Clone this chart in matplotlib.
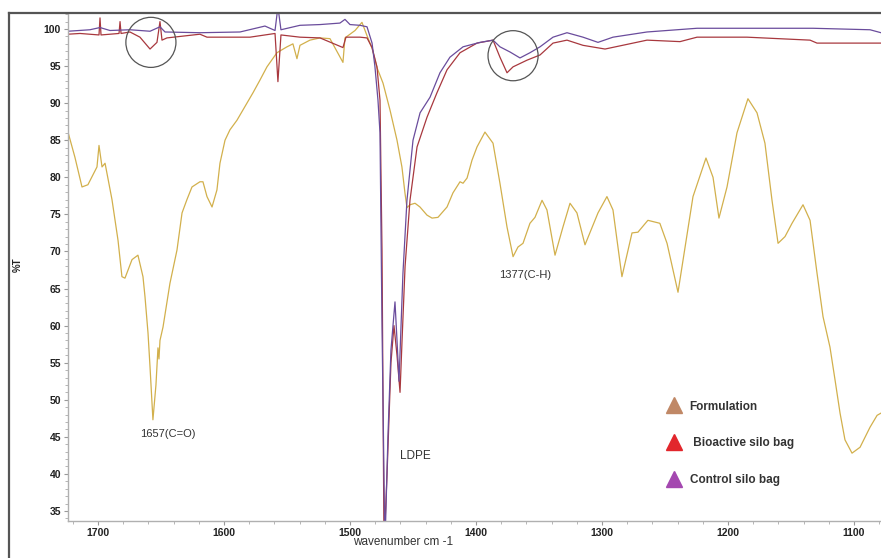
import matplotlib
matplotlib.use("Agg")
import matplotlib.pyplot as plt
from matplotlib.lines import Line2D
from matplotlib.ticker import MultipleLocator

plt.rcParams['font.family'] = ['Liberation Sans', 'DejaVu Sans']

# Formulation (gold curve)
form_wn = [1723.8, 1718.3, 1712.7, 1708.0, 1700.8, 1699.2, 1696.8, 1694.4, 1688.9, 1684.1,
           1681.0, 1678.6, 1673.0, 1668.3, 1664.3, 1662.7, 1660.3, 1658.7, 1656.4, 1654.0,
           1652.4, 1651.6, 1650.8, 1648.4, 1642.9, 1637.3, 1633.3, 1629.4, 1625.4, 1619.1,
           1616.7, 1613.5, 1609.5, 1605.6, 1603.2, 1599.2, 1595.3, 1589.7, 1581.8, 1577.0,
           1571.5, 1565.9, 1558.0, 1550.0, 1545.3, 1542.1, 1539.7, 1531.8, 1523.8, 1515.9,
           1505.6, 1504.0, 1496.0, 1490.5, 1486.5, 1482.5, 1478.6, 1473.8, 1468.3, 1462.7,
           1458.8, 1456.4, 1454.8, 1452.4, 1448.4, 1444.5, 1438.9, 1434.9, 1430.2, 1423.0,
           1418.3, 1412.7, 1410.3, 1407.1, 1403.2, 1399.2, 1392.9, 1386.5, 1381.0, 1375.4,
           1370.6, 1366.7, 1362.7, 1357.2, 1353.2, 1347.6, 1343.7, 1337.3, 1331.0, 1325.4,
           1319.9, 1313.5, 1303.2, 1296.1, 1291.3, 1284.2, 1276.2, 1271.5, 1263.6, 1254.1,
           1248.4, 1239.7, 1227.8, 1217.5, 1211.9, 1207.2, 1200.8, 1192.9, 1184.2, 1177.0,
           1170.7, 1165.1, 1160.3, 1154.8, 1149.2, 1140.5, 1134.9, 1129.4, 1124.6, 1119.1,
           1115.1, 1111.1, 1107.2, 1101.6, 1095.2, 1087.3, 1081.7, 1078.6]
form_t = [86.1, 82.7, 78.7, 79.0, 81.4, 84.3, 81.4, 81.9, 77.0, 71.5,
          66.6, 66.4, 68.9, 69.5, 66.6, 63.9, 59.0, 54.4, 47.3, 52.0,
          57.0, 55.5, 58.0, 59.8, 65.7, 70.2, 75.2, 77.0, 78.7, 79.4,
          79.4, 77.4, 76.0, 78.3, 81.9, 85.0, 86.4, 87.7, 90.0, 91.4,
          93.1, 94.9, 96.8, 97.6, 98.0, 96.0, 97.8, 98.5, 98.8, 98.7,
          95.5, 98.8, 99.8, 100.9, 99.1, 97.4, 94.8, 92.7, 89.1, 85.0,
          81.4, 77.9, 75.9, 76.3, 76.5, 76.0, 74.9, 74.5, 74.6, 76.0,
          77.9, 79.4, 79.2, 79.9, 82.3, 84.1, 86.1, 84.6, 79.2, 73.3,
          69.3, 70.6, 71.1, 73.8, 74.6, 76.9, 75.6, 69.5, 73.3, 76.5,
          75.2, 70.9, 75.2, 77.4, 75.6, 66.6, 72.5, 72.6, 74.2, 73.8,
          71.1, 64.5, 77.4, 82.6, 80.0, 74.5, 78.7, 86.0, 90.6, 88.7,
          84.6, 76.9, 71.1, 72.0, 73.8, 76.3, 74.2, 67.1, 61.2, 57.1,
          52.7, 48.2, 44.6, 42.8, 43.6, 46.3, 47.9, 48.2]

# Bioactive silo bag (red curve)
bio_wn = [1723.8, 1714.3, 1699.2, 1698.4, 1697.6, 1683.3, 1682.5, 1681.7, 1674.6, 1666.7,
          1658.7, 1653.2, 1650.8, 1649.2, 1645.3, 1619.1, 1613.5, 1579.4, 1559.5, 1557.2,
          1554.8, 1539.7, 1523.8, 1505.6, 1503.2, 1492.1, 1486.5, 1482.5, 1478.6, 1476.2,
          1474.6, 1473.0, 1470.6, 1467.5, 1465.1, 1462.7, 1460.3, 1458.7, 1456.3, 1452.4,
          1446.8, 1438.9, 1431.0, 1423.0, 1412.7, 1399.2, 1386.5, 1381.0, 1375.4, 1370.6,
          1359.5, 1349.2, 1338.9, 1327.8, 1315.1, 1297.6, 1264.3, 1238.1, 1224.6, 1184.9,
          1134.9, 1129.4, 1078.6]
bio_t = [99.3, 99.4, 99.2, 101.5, 99.2, 99.4, 101.0, 99.4, 99.6, 98.9,
         97.3, 98.2, 101.0, 98.5, 98.8, 99.3, 98.9, 98.9, 99.4, 92.9,
         99.2, 98.9, 98.8, 97.5, 98.9, 98.9, 98.8, 97.5, 94.9, 90.4,
         70.0, 30.0, 40.0, 55.0, 60.0, 56.0, 51.0, 58.0, 68.0, 76.9,
         84.1, 88.1, 91.4, 94.5, 96.8, 98.1, 98.5, 96.2, 94.1, 94.9,
         95.8, 96.5, 98.1, 98.5, 97.8, 97.3, 98.5, 98.3, 98.9, 98.9,
         98.5, 98.1, 98.1]

# Control silo bag (purple curve)
ctrl_wn = [1723.8, 1706.4, 1698.4, 1690.5, 1674.6, 1658.7, 1650.8, 1646.8, 1619.1, 1587.3,
           1567.5, 1559.5, 1557.2, 1554.8, 1539.7, 1523.8, 1508.0, 1504.0, 1500.0, 1492.1,
           1486.5, 1482.5, 1480.2, 1477.8, 1476.2, 1474.6, 1472.3, 1469.9, 1467.5, 1464.3,
           1462.7, 1461.1, 1459.5, 1458.0, 1454.8, 1450.0, 1444.4, 1436.5, 1428.6, 1420.7,
           1410.3, 1396.8, 1386.5, 1381.0, 1373.0, 1365.1, 1357.2, 1349.2, 1338.9, 1327.8,
           1315.1, 1303.2, 1291.3, 1264.3, 1224.6, 1184.9, 1132.5, 1087.3, 1078.6]
ctrl_t = [99.7, 99.9, 100.2, 99.8, 99.9, 99.7, 100.3, 99.6, 99.5, 99.6,
          100.4, 99.8, 103.0, 99.9, 100.5, 100.6, 100.8, 101.3, 100.6, 100.5,
          100.3, 98.1, 94.9, 90.4, 86.0, 60.0, 30.0, 45.0, 56.7, 63.2,
          58.0, 52.5, 60.0, 67.0, 76.9, 85.0, 88.7, 90.8, 94.1, 96.2,
          97.6, 98.2, 98.5, 97.6, 96.9, 96.1, 96.8, 97.6, 98.9, 99.5,
          98.9, 98.2, 98.9, 99.6, 100.1, 100.1, 100.1, 99.9, 99.5]

fig = plt.figure(figsize=(8.81, 5.58), dpi=100)
ax = fig.add_axes([68 / 881, 1 - 521 / 558, 1 - 68 / 881, 508 / 558])

ax.plot(form_wn, form_t, color="#d2b04c", lw=0.9)
ax.plot(bio_wn, bio_t, color="#a8383e", lw=0.9)
ax.plot(ctrl_wn, ctrl_t, color="#6a4c9c", lw=0.9)

ax.set_xlim(1723.8, 1078.6)
ax.set_ylim(33.65, 102.16)
ax.xaxis.set_major_locator(MultipleLocator(100))
ax.xaxis.set_minor_locator(MultipleLocator(20))
ax.yaxis.set_major_locator(MultipleLocator(5))
ax.yaxis.set_minor_locator(MultipleLocator(1))

for s in ['top', 'right']:
    ax.spines[s].set_visible(False)
for s in ['left', 'bottom']:
    ax.spines[s].set_color('#b0b0b0')
    ax.spines[s].set_linewidth(1.0)
ax.tick_params(which='major', length=3, width=0.8, color='#999999', pad=2,
               labelsize=7.5, labelcolor='#222222')
ax.tick_params(which='minor', length=2, width=0.6, color='#aaaaaa')
for lab in ax.get_xticklabels() + ax.get_yticklabels():
    lab.set_fontweight('bold')

# marked bands
ax.scatter([1658.0, 1370.6], [98.2, 96.4], s=1300, facecolors='none',
           edgecolors='#555555', linewidths=0.9, zorder=5)

ax.text(1644.9, 45.4, "1657(C=O)", fontsize=8, color='#333333', ha='center', va='center')
ax.text(1448.4, 42.4, "LDPE", fontsize=8.5, color='#333333', ha='center', va='center')
ax.text(1361.1, 66.8, "1377(C-H)", fontsize=8, color='#333333', ha='center', va='center')

handles = [
    Line2D([], [], ls='none', marker='^', ms=11, color='#c08866', label='Formulation'),
    Line2D([], [], ls='none', marker='^', ms=11, color='#e2262c', label=' Bioactive silo bag'),
    Line2D([], [], ls='none', marker='^', ms=11, color='#a448b0', label='Control silo bag'),
]
leg = ax.legend(handles=handles, loc='upper left', bbox_to_anchor=(0.724, 0.258),
                frameon=False, labelspacing=2.1, handletextpad=0.7, handlelength=1.2,
                prop={'size': 8.5, 'weight': 'bold'})
for t in leg.get_texts():
    t.set_color('#333333')

fig.text(18 / 881, 1 - 265 / 558, "%T", rotation=90, fontsize=7, fontweight='bold',
         ha='center', va='center', color='#222222')
fig.text(353 / 881, 1 - 542 / 558, "wavenumber cm -1", fontsize=8.5, color='#333333',
         ha='left', va='center')

# outer frame
fig.add_artist(Line2D([9 / 881, 9 / 881], [0, 1 - 13 / 558], color='#555555', lw=1.6,
                      transform=fig.transFigure))
fig.add_artist(Line2D([9 / 881, 1], [1 - 13 / 558, 1 - 13 / 558], color='#555555', lw=1.6,
                      transform=fig.transFigure))

fig.savefig("out.png", dpi=100)
